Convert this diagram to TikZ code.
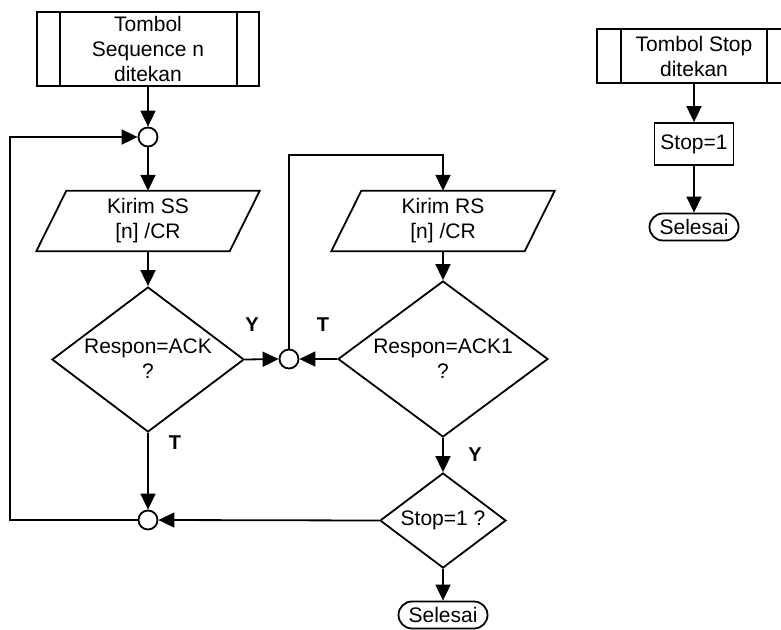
\documentclass[tikz,border=0pt]{standalone}
\usepackage{fontspec}
\setmainfont{Liberation Sans}
\usetikzlibrary{shapes.geometric,arrows.meta,calc}
\tikzset{
 base/.style={line width=1.8pt},
 flow/.style={base, -{Triangle[length=16pt,width=15pt]}},
 line/.style={base},
 txt/.style={font=\fontsize{21}{25}\selectfont, align=center, inner sep=0pt},
 ppbox/.style={txt, draw, base, minimum width=222pt, minimum height=74pt},
 iobox/.style={txt, minimum width=193pt, minimum height=60pt},
 dec/.style={diamond, draw, base, inner sep=0pt},
 junc/.style={circle, draw, base, fill=white, minimum size=19pt, inner sep=0pt},
 proc/.style={txt, draw, base, minimum width=79pt, minimum height=42pt},
 term/.style={txt, draw, base, minimum width=89pt, minimum height=27pt, rounded corners=13.5pt},
 lbl/.style={font=\fontsize{20}{23}\selectfont\bfseries, inner sep=0pt},
}
\begin{document}
\begin{tikzpicture}[x=1pt,y=-1pt]
\useasboundingbox (0,0) rectangle (781,629);
% left column
\node[ppbox] (seq) at (148,49) {Tombol\\Sequence n\\ditekan};
\draw[line] ($(seq.north west)+(24,0)$) -- ($(seq.south west)+(24,0)$);
\draw[line] ($(seq.north east)+(-23,0)$) -- ($(seq.south east)+(-23,0)$);
\node[junc] (c1) at (148,137) {};
\node[iobox] (p1) at (148,221) {Kirim SS\\{[n]} /CR};
\draw[line] ($(p1.north west)+(15,0)$) -- ($(p1.north east)+(15,0)$) -- ($(p1.south east)+(-15,0)$) -- ($(p1.south west)+(-15,0)$) -- cycle;
\node[dec, minimum width=192pt, minimum height=145pt] (d1) at (148,359.5) {};
\node[txt] (d1t) at (148,359) {Respon=ACK\\?};
\node[junc] (c2) at (148,520) {};
\node[junc] (c3) at (289,359) {};
\coordinate (top) at (443,155);
\coordinate (loopL) at (10,137);
% right column
\node[iobox] (p2) at (443,221) {Kirim RS\\{[n]} /CR};
\draw[line] ($(p2.north west)+(15,0)$) -- ($(p2.north east)+(15,0)$) -- ($(p2.south east)+(-15,0)$) -- ($(p2.south west)+(-15,0)$) -- cycle;
\node[dec, minimum width=210pt, minimum height=156pt] (d2) at (443,359) {};
\node[txt] (d2t) at (443,359) {Respon=ACK1\\?};
\node[dec, minimum width=126pt, minimum height=95pt] (d3) at (443,520.5) {};
\node[txt] (d3t) at (443,520) {Stop=1 ?};
\node[term] (end1) at (443,615) {Selesai};
% stop branch
\node[ppbox, minimum width=194pt, minimum height=54pt] (stb) at (694,56) {Tombol Stop\\ditekan};
\draw[line] ($(stb.north west)+(25,0)$) -- ($(stb.south west)+(25,0)$);
\draw[line] ($(stb.north east)+(-25,0)$) -- ($(stb.south east)+(-25,0)$);
\node[proc] (s1) at (694,144) {Stop=1};
\node[term] (end2) at (694,227) {Selesai};
% labels
\node[lbl] (lY1) at (252,325) {Y};
\node[lbl] (lT1) at (323,325) {T};
\node[lbl] (lT2) at (175,443) {T};
\node[lbl] (lY2) at (475,455) {Y};
% connectors
\draw[flow] (seq.south) -- (c1.north);
\draw[flow] (c1.south) -- (p1.north);
\draw[flow] (p1.south) -- (d1.north);
\draw[flow] (d1.east) -- (c3.west);
\draw[flow] (d1.south) -- (c2.north);
\draw[flow] (c2.west) -| (loopL) -- (c1.west);
\draw[flow] (c3.north) |- (top) -- (p2.north);
\draw[flow] (p2.south) -- (d2.north);
\draw[flow] (d2.west) -- (c3.east);
\draw[flow] (d2.south) -- (d3.north);
\draw[flow] (d3.west) -- (c2.east);
\draw[flow] (d3.south) -- (end1.north);
\draw[flow] (stb.south) -- (s1.north);
\draw[flow] (s1.south) -- (end2.north);
\end{tikzpicture}
\end{document}
